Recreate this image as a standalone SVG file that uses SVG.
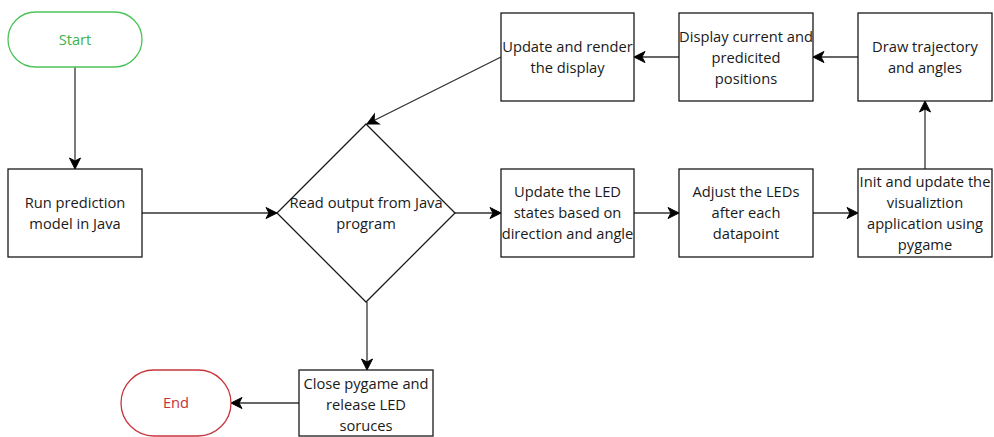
<svg xmlns="http://www.w3.org/2000/svg" width="994" height="437" viewBox="0 0 994 437">
<style>
text{font-family:"Open Sans","Noto Sans","DejaVu Sans",sans-serif;font-size:14.7px;fill:#1a1a1a;text-anchor:middle}
.box{fill:#fff;stroke:#1a1a1a;stroke-width:1.3}
.conn{fill:none;stroke:#333;stroke-width:1.3}
</style>
<defs>
<marker id="arr" markerUnits="userSpaceOnUse" markerWidth="14" markerHeight="14" viewBox="-12 -7 14 14" refX="0" refY="0" orient="auto">
<path d="M0,0 L-11,-5.5 L-8,0 L-11,5.5 Z" fill="#000" stroke="#000" stroke-width="1"/>
</marker>
</defs>
<rect width="994" height="437" fill="#fff"/>
<g id="connectors">
<path class="conn" d="M75,67 V169" marker-end="url(#arr)"/>
<path class="conn" d="M142,213 H277" marker-end="url(#arr)"/>
<path class="conn" d="M455,213 H501" marker-end="url(#arr)"/>
<path class="conn" d="M634,213 H679" marker-end="url(#arr)"/>
<path class="conn" d="M813,213 H858" marker-end="url(#arr)"/>
<path class="conn" d="M925,169 V101" marker-end="url(#arr)"/>
<path class="conn" d="M858,57 H813" marker-end="url(#arr)"/>
<path class="conn" d="M679,57 H634" marker-end="url(#arr)"/>
<path class="conn" d="M501,57 L367,124" marker-end="url(#arr)"/>
<path class="conn" d="M367,302 V370" marker-end="url(#arr)"/>
<path class="conn" d="M299,403 H231" marker-end="url(#arr)"/>
</g>
<g id="start">
<rect x="8" y="12" width="134" height="55" rx="27.5" fill="#fff" stroke="#4cc35a" stroke-width="1.3"/>
<text x="75" y="45" style="fill:#3db24a">Start</text>
</g>
<g id="run">
<rect class="box" x="8" y="169" width="134" height="88"/>
<text x="75" y="208">Run prediction</text>
<text x="75" y="229">model in Java</text>
</g>
<g id="read">
<path class="box" d="M366,124 L455,213 L366,302 L277,213 Z"/>
<text x="366" y="208">Read output from Java</text>
<text x="366" y="229">program</text>
</g>
<g id="updateled">
<rect class="box" x="501" y="169" width="133" height="88"/>
<text x="567.5" y="197">Update the LED</text>
<text x="567.5" y="218">states based on</text>
<text x="567.5" y="239">direction and angle</text>
</g>
<g id="adjust">
<rect class="box" x="679" y="169" width="134" height="88"/>
<text x="746" y="197">Adjust the LEDs</text>
<text x="746" y="218">after each</text>
<text x="746" y="239">datapoint</text>
</g>
<g id="init">
<rect class="box" x="858" y="169" width="134" height="88"/>
<text x="925" y="187">Init and update the</text>
<text x="925" y="208">visualiztion</text>
<text x="925" y="229">application using</text>
<text x="925" y="250">pygame</text>
</g>
<g id="draw">
<rect class="box" x="858" y="13" width="134" height="88"/>
<text x="925" y="52">Draw trajectory</text>
<text x="925" y="73">and angles</text>
</g>
<g id="displaycur">
<rect class="box" x="679" y="13" width="134" height="88"/>
<text x="746" y="42">Display current and</text>
<text x="746" y="63">predicited</text>
<text x="746" y="84">positions</text>
</g>
<g id="render">
<rect class="box" x="501" y="13" width="133" height="88"/>
<text x="567.5" y="52">Update and render</text>
<text x="567.5" y="73">the display</text>
</g>
<g id="close">
<rect class="box" x="299" y="370" width="134" height="66"/>
<text x="366" y="389">Close pygame and</text>
<text x="366" y="410">release LED</text>
<text x="366" y="431">soruces</text>
</g>
<g id="end">
<rect x="121" y="370" width="110" height="66" rx="33" fill="#fff" stroke="#c8363d" stroke-width="1.3"/>
<text x="176" y="408" style="fill:#c0333a">End</text>
</g>
</svg>
